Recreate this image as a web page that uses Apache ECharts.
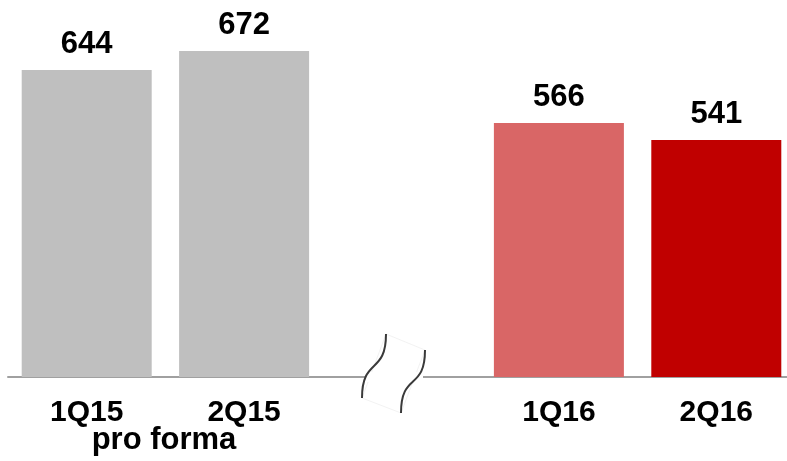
<!DOCTYPE html>
<html>
<head>
<meta charset="utf-8">
<script src="https://cdn.jsdelivr.net/npm/echarts@6/dist/echarts.min.js"></script>
<style>
  html, body { margin: 0; padding: 0; background: #fff; }
  #chart { width: 787px; height: 461px; }
</style>
</head>
<body>
<div id="chart"></div>
<script>
// quarters, middle slot is the axis break
const categories = ['1Q15', '2Q15', '', '1Q16', '2Q16'];
const values = [644, 672, '-', 566, 541];
const barColors = ['#bfbfbf', '#bfbfbf', '#ffffff', '#d96666', '#c00000'];

const chart = echarts.init(document.getElementById('chart'), null, { renderer: 'canvas' });
const font = '"Liberation Sans", Arial, sans-serif';

// break squiggles (S-shaped curves over the axis line)
function squiggle(x1, y1, x2, y2) {
  return {
    type: 'bezierCurve',
    shape: { x1: x1, y1: y1, cpx1: x1, cpy1: y1 + 41, cpx2: x2, cpy2: y2 - 41, x2: x2, y2: y2 },
    style: { stroke: '#3a3a3a', lineWidth: 2, fill: null },
    z: 100
  };
}

const option = {
  animation: false,
  grid: { left: 8, width: 787, top: 0, bottom: 84, containLabel: false, outerBoundsMode: 'none' },
  xAxis: {
    type: 'category',
    data: categories,
    axisLine: { lineStyle: { color: '#a0a0a0', width: 2 } },
    axisTick: { show: false },
    axisLabel: {
      color: '#000', fontSize: 30, fontWeight: 'bold', fontFamily: font, margin: 21
    }
  },
  yAxis: {
    type: 'value',
    min: 192,
    max: 747,
    show: false,
    splitLine: { show: false }
  },
  series: [{
    type: 'bar',
    barWidth: 130,
    data: values.map((v, i) => ({ value: v, itemStyle: { color: barColors[i] } })),
    label: {
      show: true,
      position: 'top',
      distance: 10,
      color: '#000',
      fontSize: 31,
      fontWeight: 'bold',
      fontFamily: font
    }
  }],
  graphic: [
    {
      type: 'polygon',
      shape: { points: [[386, 334], [425, 350], [401, 413], [362, 398]] },
      style: { fill: '#ffffff', stroke: '#f2f2f2', lineWidth: 1 },
      z: 99
    },
    {
      type: 'rect',
      shape: { x: 366, y: 372, width: 57, height: 10 },
      style: { fill: '#ffffff' },
      z: 99
    },
    squiggle(386, 334, 362, 398),
    squiggle(425, 350, 401, 413),
    {
      type: 'text',
      x: 164,
      y: 440,
      style: {
        text: 'pro forma',
        fill: '#000',
        font: 'bold 31px ' + font,
        textAlign: 'center',
        textVerticalAlign: 'middle'
      }
    }
  ]
};

chart.setOption(option);
</script>
</body>
</html>
